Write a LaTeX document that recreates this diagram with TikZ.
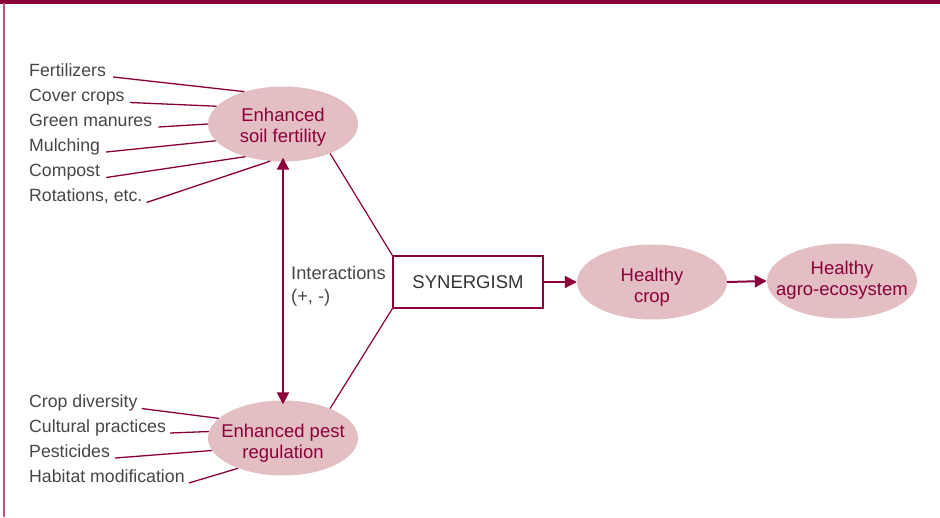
\documentclass[tikz,border=0pt]{standalone}
\usepackage{fontspec}
\setmainfont{Liberation Sans}
\usetikzlibrary{shapes.geometric,arrows.meta}
\definecolor{maroon}{RGB}{139,0,58}
\definecolor{framel}{RGB}{184,88,122}
\definecolor{pinkfill}{RGB}{227,191,196}
\definecolor{labgrey}{RGB}{70,70,70}
\newcommand{\ovaltext}[2]{\raisebox{#1}[0pt][0pt]{\makebox[0pt]{\begin{tabular}{@{}c@{}}#2\end{tabular}}}}
\tikzset{
  oval/.style={ellipse, fill=pinkfill, minimum width=150pt, minimum height=75pt, inner sep=0pt,
    text=maroon, font=\fontsize{18.5}{21}\selectfont},
  lab/.style={anchor=base west, inner sep=0pt, text=labgrey, font=\fontsize{17.7}{22}\selectfont},
  feed/.style={draw=maroon, line width=1.3pt},
  link/.style={draw=maroon, line width=1.2pt},
  flow/.style={draw=maroon, line width=2pt, -{Triangle[length=12pt,width=12pt]}},
  dflow/.style={draw=maroon, line width=2pt, {Triangle[length=12pt,width=12pt]}-{Triangle[length=12pt,width=12pt]}},
  synbox/.style={draw=maroon, line width=1.3pt, minimum width=150pt, minimum height=52pt, inner sep=0pt,
    text=black!80, font=\fontsize{18.5}{22}\selectfont}
}
\begin{document}
\begin{tikzpicture}[x=1pt,y=-1pt]
\useasboundingbox (0,0) rectangle (940,517);
\fill[maroon] (0,0) rectangle (940,3.5);
\draw[framel, line width=2pt] (4,3) -- (4,517);

\node[oval] (soil) at (283,124) {\ovaltext{-8pt}{Enhanced\\soil fertility}};
\node[oval] (pest) at (283,438) {\ovaltext{-10.5pt}{Enhanced pest\\regulation}};
\node[synbox] (syn) at (468,282) {SYNERGISM};
\node[oval] (crop) at (652,282) {\ovaltext{-10.5pt}{Healthy\\crop}};
\node[oval] (agro) at (842,281) {\ovaltext{-4.6pt}{Healthy\\agro-ecosystem}};

\node[lab] (l1) at (29,76) {Fertilizers};
\node[lab] (l2) at (29,101) {Cover crops};
\node[lab] (l3) at (29,126) {Green manures};
\node[lab] (l4) at (29,151) {Mulching};
\node[lab] (l5) at (29,176) {Compost};
\node[lab] (l6) at (29,201) {Rotations, etc.};

\node[lab] (m1) at (29,407) {Crop diversity};
\node[lab] (m2) at (29,432) {Cultural practices};
\node[lab] (m3) at (29,457) {Pesticides};
\node[lab] (m4) at (29,482) {Habitat modification};

\node[anchor=west, inner sep=0pt, text=labgrey, align=left, font=\fontsize{18.3}{23}\selectfont] (inter) at (291,286) {Interactions\\(+, -)};

\draw[feed] ([xshift=7pt,yshift=-1pt]l1.base east) -- (soil.140);
\draw[feed] ([xshift=5pt,yshift=-1.5pt]l2.base east) -- (soil.165);
\draw[feed] ([xshift=6pt,yshift=-1pt]l3.base east) -- (soil.180);
\draw[feed] ([xshift=6pt,yshift=-1pt]l4.base east) -- (soil.194);
\draw[feed] ([xshift=6pt,yshift=-1.5pt]l5.base east) -- (soil.221);
\draw[feed] ([xshift=4pt,yshift=-1.5pt]l6.base east) -- (soil.251);

\draw[feed] ([xshift=4pt,yshift=-1.5pt]m1.base east) -- (pest.163);
\draw[feed] ([xshift=4pt,yshift=-1pt]m2.base east) -- (pest.175.5);
\draw[feed] ([xshift=5pt,yshift=-1pt]m3.base east) -- (pest.190);
\draw[feed] ([xshift=4pt,yshift=-1pt]m4.base east) -- (pest.214.6);

\draw[link] (soil.328) -- (syn.north west);
\draw[link] (pest.32) -- (syn.south west);

\draw[dflow] ([yshift=4pt]soil.south) -- ([yshift=-4pt]pest.north);
\draw[flow] (syn.east) -- (crop.west);
\draw[flow] (crop.east) -- (agro.west);
\end{tikzpicture}
\end{document}
